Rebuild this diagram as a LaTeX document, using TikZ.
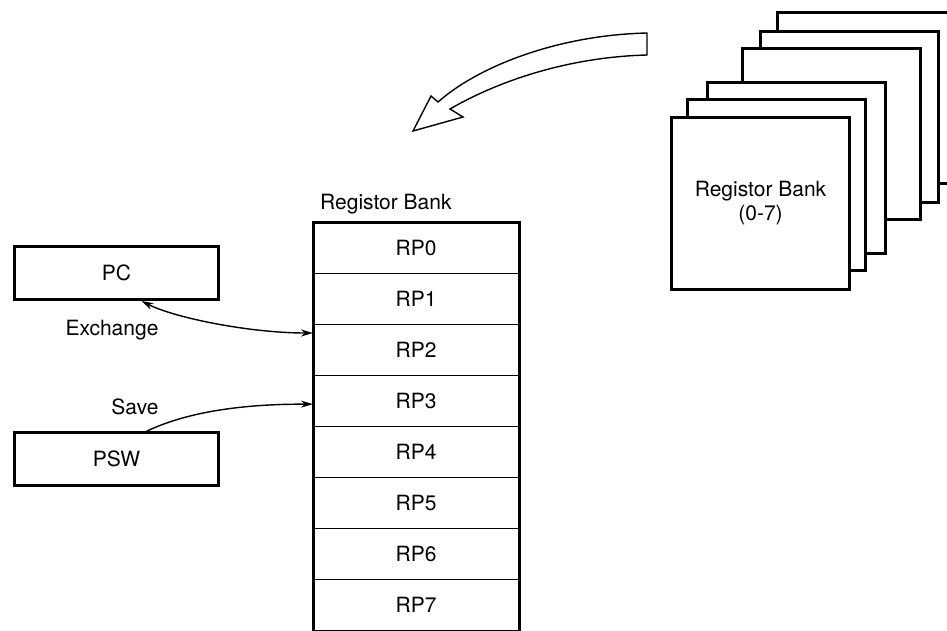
\documentclass[tikz,border=0pt]{standalone}
\usepackage{fontspec}
\setmainfont{TeX Gyre Heros}
\usetikzlibrary{arrows.meta}
\begin{document}
\begin{tikzpicture}[x=1pt,y=-1pt,
  font=\fontsize{21}{24}\selectfont,
  >={Stealth[length=12pt,width=7pt]},
  thickbox/.style={draw, line width=3pt, fill=white, inner sep=0pt},
  cell/.style={draw, line width=1.3pt, minimum width=205pt, minimum height=51pt, inner sep=0pt, anchor=north west},
  conn/.style={line width=1.4pt}]
\useasboundingbox (0,0) rectangle (947,630);

% stacked register banks
\foreach \l/\t in {777/12,760/31,742/48,707/82,687/99}
  \draw[thickbox] (\l,\t) rectangle ++(178,171);
\node[thickbox, minimum width=178pt, minimum height=172pt, anchor=north west, align=center]
  (front) at (670,116) {Registor Bank\\(0-7)};

% big hollow arrow
\draw[line width=1.4pt, fill=white, line join=miter]
  (647,33) .. controls (560,35) and (480,65) .. (438,102)
  -- (431,96) -- (413,131) -- (463,117) -- (450,109)
  .. controls (500,80) and (570,57) .. (647,55) -- cycle;

% register bank
\foreach \i in {0,...,7}
  \node[cell] (rp\i) at (313,{222+51*\i}) {RP\i};
\draw[line width=3pt] (rp0.north west) rectangle (rp7.south east);
\node[anchor=base west, inner sep=0pt] (rbl) at (320,209) {Registor Bank};

% PC and PSW
\node[thickbox, minimum width=204pt, minimum height=53pt, anchor=north west] (pc) at (13,245) {PC};
\node[thickbox, minimum width=204pt, minimum height=53pt, anchor=north west] (psw) at (13,431) {PSW};

\node (exl) at (112,330) {Exchange};
\node (svl) at (135,407) {Save};

\draw[conn, <->] ([xshift=25pt]pc.south) .. controls (175,318) and (250,333) .. ([yshift=-9pt]rp2.north west);
\coordinate (svs) at (145,432);
\draw[conn, ->] (svs) .. controls (190,410) and (250,404) .. ([yshift=-3pt]rp3.west);
\end{tikzpicture}
\end{document}
